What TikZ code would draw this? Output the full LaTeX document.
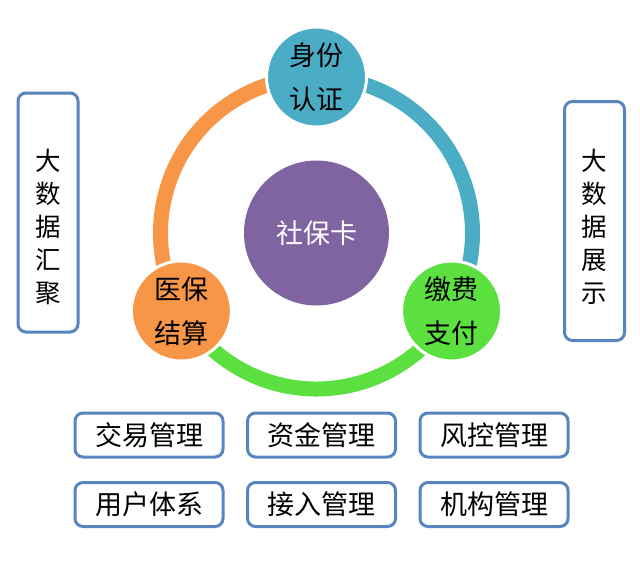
\documentclass[tikz,border=0pt]{standalone}
\usepackage{fontspec}
\setmainfont{Noto Sans CJK SC}
\usetikzlibrary{backgrounds,calc}
\definecolor{cteal}{HTML}{4BACC6}
\definecolor{corange}{HTML}{F79646}
\definecolor{cgreen}{HTML}{5CE040}
\definecolor{cpurple}{HTML}{8064A2}
\definecolor{boxblue}{HTML}{5884C0}
\tikzset{
  ringnode/.style={circle, minimum size=100, inner sep=0, draw=white, line width=3, align=center, font=\fontsize{27}{44}\selectfont},
  ringarc/.style={line width=15},
  vbox/.style={draw=boxblue, line width=3, rounded corners=8, minimum width=60, minimum height=239, fill=white},
  vtext/.style={align=center, font=\fontsize{25.5}{33}\selectfont},
  hbox/.style={draw=boxblue, line width=3, rounded corners=8, minimum width=148, minimum height=44, fill=white, font=\fontsize{27}{30}\selectfont}
}
\begin{document}
\begin{tikzpicture}[x=1pt,y=-1pt]
\useasboundingbox (0,0) rectangle (640,562);
\coordinate (C) at (316.5,233);
\node[circle, fill=cpurple, minimum size=145, inner sep=0, text=white, font=\fontsize{27}{30}\selectfont] (card) at (C) {社保卡};
\node[ringnode, fill=cteal] (top) at ($(C)+(-90:156)$) {身份\\认证};
\node[ringnode, fill=corange] (left) at ($(C)+(150:156)$) {医保\\结算};
\node[ringnode, fill=cgreen] (right) at ($(C)+(30:156)$) {缴费\\支付};
\begin{scope}[on background layer]
\draw[ringarc, cteal] (top.center) arc[start angle=-90, end angle=30, radius=156];
\draw[ringarc, cgreen] (right.center) arc[start angle=30, end angle=150, radius=156];
\draw[ringarc, corange] (left.center) arc[start angle=150, end angle=270, radius=156];
\end{scope}
\node[vbox] (lbox) at (48,212.5) {};
\node[vtext] (ltext) at (48,227) {大\\数\\据\\汇\\聚};
\node[vbox] (rbox) at (594.5,221) {};
\node[vtext] (rtext) at (594.5,227) {大\\数\\据\\展\\示};
\node[hbox] (b1) at (149,435) {交易管理};
\node[hbox] (b2) at (321.5,435) {资金管理};
\node[hbox] (b3) at (494,435) {风控管理};
\node[hbox] (b4) at (149,504.5) {用户体系};
\node[hbox] (b5) at (321.5,504.5) {接入管理};
\node[hbox] (b6) at (494,504.5) {机构管理};
\end{tikzpicture}
\end{document}
